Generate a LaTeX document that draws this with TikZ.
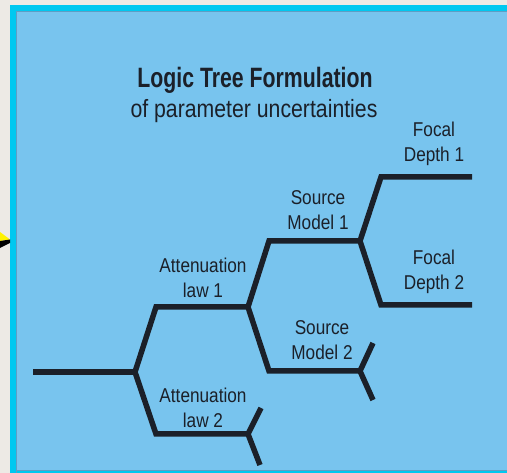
\documentclass[tikz,border=0pt]{standalone}
\usepackage{fontspec}
\setmainfont{Liberation Sans}
\newfontfamily\titlefont[FakeStretch=0.76]{Liberation Sans}
\newfontfamily\subfont[FakeStretch=0.85]{Liberation Sans}
\newfontfamily\labfont[FakeStretch=0.86]{Liberation Sans}
\definecolor{pagebg}{HTML}{EDEAE5}
\definecolor{framecyan}{HTML}{00C8F0}
\definecolor{panelblue}{HTML}{78C4EE}
\definecolor{paneledge}{HTML}{5E9EC4}
\definecolor{inkdark}{HTML}{1B2029}
\definecolor{arrowyellow}{HTML}{FFF200}
\tikzset{
  branch/.style={draw=inkdark, line width=5.5pt, line join=miter, line cap=butt},
  lab/.style={font=\labfont\fontsize{20}{25}\selectfont, text=inkdark, align=center, inner sep=0pt, anchor=base},
}
\begin{document}
\begin{tikzpicture}[x=1pt,y=-1pt]
\useasboundingbox (0,0) rectangle (507,473);
% background and frame
\fill[pagebg] (0,0) rectangle (507,473);
\fill[framecyan] (10,5) rectangle (520,485);
\fill[panelblue] (16.5,11.5) rectangle (515,470.5);
\draw[paneledge, line width=1pt] (16.5,515) -- (16.5,11.5) -- (515,11.5);
\draw[paneledge, line width=1pt] (16.5,470.5) -- (515,470.5);
% small arrow on left edge
\fill[arrowyellow] (0,232) -- (10,239.5) -- (0,241) -- cycle;
\fill[black] (0,241) -- (10,239.5) -- (10,243) -- (0,248) -- cycle;

% title
\node[font=\titlefont\bfseries\fontsize{28}{30}\selectfont, text=inkdark, anchor=base, inner sep=0pt] (title) at (255,88) {Logic Tree Formulation};
\node[font=\subfont\fontsize{25}{28}\selectfont, text=inkdark, anchor=base, inner sep=0pt] (subtitle) at (254,118) {of parameter uncertainties};

% tree coordinates
\coordinate (r0) at (33,372);
\coordinate (f0) at (135,372);
\coordinate (a1c) at (156,307);
\coordinate (f1) at (248,307);
\coordinate (a2c) at (156,434);
\coordinate (f2) at (248,434);
\coordinate (f2u) at (261,408);
\coordinate (f2d) at (260,465);
\coordinate (s1c) at (269,241);
\coordinate (f3) at (360,241);
\coordinate (s2c) at (269,371);
\coordinate (f4) at (360,371);
\coordinate (f4u) at (373,343);
\coordinate (f4d) at (373,400);
\coordinate (d1c) at (381,177);
\coordinate (d1e) at (472,177);
\coordinate (d2c) at (381,305);
\coordinate (d2e) at (472,305);

\draw[branch] (r0) -- (f0);
\draw[branch] (f0) -- (a1c) -- (f1);
\draw[branch] (f0) -- (a2c) -- (f2);
\draw[branch] (f2u) -- (f2) -- (f2d);
\draw[branch] (f1) -- (s1c) -- (f3);
\draw[branch] (f1) -- (s2c) -- (f4);
\draw[branch] (f4u) -- (f4) -- (f4d);
\draw[branch] (f3) -- (d1c) -- (d1e);
\draw[branch] (f3) -- (d2c) -- (d2e);

% labels (anchor base = baseline of the last line)
\node[lab] (fd1) at (434,161.5) {Focal\\Depth 1};
\node[lab] (fd2) at (434,290) {Focal\\Depth 2};
\node[lab] (sm1) at (318,230) {Source\\Model 1};
\node[lab] (sm2) at (322,360) {Source\\Model 2};
\node[lab] (al1) at (203,298) {Attenuation\\law 1};
\node[lab] (al2) at (203,428) {Attenuation\\law 2};
\end{tikzpicture}
\end{document}
